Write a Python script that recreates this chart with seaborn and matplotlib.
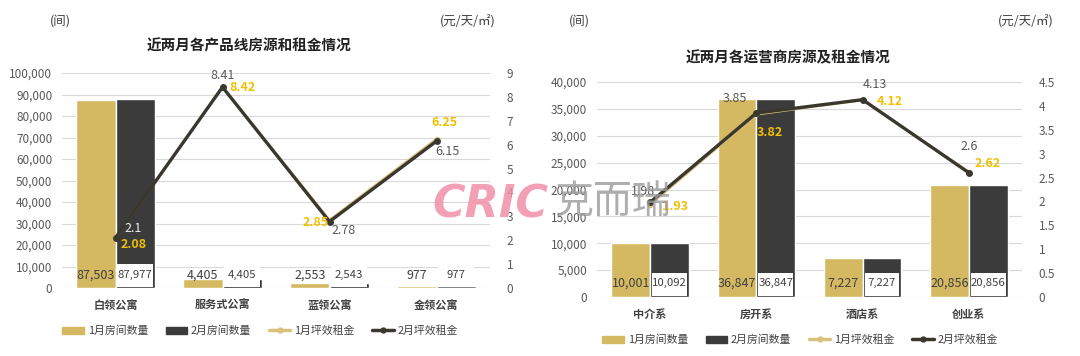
# coding:utf-8
# 近两月房源及租金情况 - 双图

import numpy as np
import pandas as pd
import seaborn as sns
import matplotlib.pyplot as plt
import matplotlib.transforms as mtransforms
from matplotlib.patches import Rectangle
from matplotlib.lines import Line2D
from matplotlib.patches import Patch

sns.set_theme(style="white")
plt.rcParams['font.family'] = ['Noto Sans CJK SC', 'DejaVu Sans']

# 左图: 产品线
cats_l = ['白领公寓', '服务式公寓', '蓝领公寓', '金领公寓']
jan_cnt_l = [87503, 4405, 2553, 977]
feb_cnt_l = [87977, 4405, 2543, 977]
jan_rent_l = [2.08, 8.42, 2.85, 6.25]
feb_rent_l = [2.1, 8.41, 2.78, 6.15]

# 右图: 运营商
cats_r = ['中介系', '房开系', '酒店系', '创业系']
jan_cnt_r = [10001, 36847, 7227, 20856]
feb_cnt_r = [10092, 36847, 7227, 20856]
jan_rent_r = [1.93, 3.82, 4.12, 2.62]
feb_rent_r = [1.98, 3.85, 4.13, 2.6]

GOLD = '#D5B962'
DARK = '#3B3B3B'
GOLD_TXT = '#F0C000'
GREY_TXT = '#595959'
LINE_GOLD = '#D8C27E'
LINE_DARK = '#3A372F'

# 折线标签偏移(像素)
jan_off_l = [(18, -6), (20, -1), (-14, -3), (8, 16)]
feb_off_l = [(18, 9), (0, 12), (14, -9), (11, -10)]
feb_col_l = ['#EEEEEE', GREY_TXT, GREY_TXT, GREY_TXT]
jan_off_r = [(25, -2), (13, -18), (27, -1), (19, 8)]
feb_off_r = [(-7, 11), (-22, 15), (12, 15), (0, 26)]
feb_col_r = [GREY_TXT] * 4

fig = plt.figure(figsize=(10.8, 3.56), dpi=100)


def draw(rect, title, title_xy, cats, jc, fc, jr, fr, y1max, y1step, y2max, y2step,
         joff, foff, fcol, lab_y):
    ax = fig.add_axes(rect)
    df = pd.DataFrame({
        'cat': cats * 2,
        'month': ['1月房间数量'] * len(cats) + ['2月房间数量'] * len(cats),
        'cnt': jc + fc,
    })
    sns.barplot(data=df, x='cat', y='cnt', hue='month', palette=[GOLD, DARK],
                width=0.73, gap=0, saturation=1, ax=ax, legend=False, zorder=2)
    ax.set_xlim(-0.5, len(cats) - 0.5)
    ax.set_ylim(0, y1max)
    ax.set_yticks(np.arange(0, y1max + 1, y1step))
    ax.set_yticklabels(['{:,.0f}'.format(v) for v in np.arange(0, y1max + 1, y1step)])
    ax.grid(axis='y', color='#D9D9D9', lw=0.8, zorder=0)
    ax.set_axisbelow(True)
    for s in ax.spines.values():
        s.set_visible(False)
    ax.set_xlabel('')
    ax.set_ylabel('')
    ax.tick_params(axis='y', length=0, labelsize=8.5, labelcolor=GREY_TXT, pad=7)
    ax.tick_params(axis='x', length=0, pad=8)
    for t in ax.get_xticklabels():
        t.set_fontsize(8)
        t.set_fontweight('bold')
        t.set_color('#404040')

    trans = mtransforms.blended_transform_factory(ax.transData, ax.transAxes)
    for bar, v in zip(ax.containers[0], jc):
        cx = bar.get_x() + bar.get_width() / 2
        ax.text(cx, lab_y, '{:,}'.format(v), transform=trans, ha='center', va='center',
                fontsize=9, color='#404040', zorder=5)
    for bar, v in zip(ax.containers[1], fc):
        w = bar.get_width()
        ax.add_patch(Rectangle((bar.get_x() + w * 0.05, 0.005), w * 0.9, 0.105,
                               transform=trans, facecolor='white', edgecolor='none', zorder=4))
        ax.text(bar.get_x() + w / 2, lab_y, '{:,}'.format(v), transform=trans,
                ha='center', va='center', fontsize=8.2, color='#404040', zorder=5)

    ax2 = ax.twinx()
    xs = np.arange(len(cats))
    sns.lineplot(x=xs, y=jr, ax=ax2, color=LINE_GOLD, lw=1.6, marker='o', markersize=4,
                 markeredgewidth=0, sort=False, zorder=3)
    sns.lineplot(x=xs, y=fr, ax=ax2, color=LINE_DARK, lw=2.4, marker='o', markersize=5,
                 markeredgewidth=0, sort=False, zorder=4)
    ax2.set_ylim(0, y2max)
    ticks2 = np.arange(0, y2max + 1e-9, y2step)
    ax2.set_yticks(ticks2)
    ax2.set_yticklabels(['{:g}'.format(v) for v in ticks2])
    ax2.tick_params(axis='y', length=0, labelsize=8.5, labelcolor=GREY_TXT, pad=12)
    for s in ax2.spines.values():
        s.set_visible(False)
    ax2.grid(False)
    ax2.set_ylabel('')
    for i in range(len(cats)):
        ax2.annotate('{:g}'.format(fr[i]), (xs[i], fr[i]), xytext=foff[i],
                     textcoords='offset pixels', ha='center', va='center',
                     fontsize=9, color=fcol[i], zorder=6)
        ax2.annotate('{:.2f}'.format(jr[i]), (xs[i], jr[i]), xytext=joff[i],
                     textcoords='offset pixels', ha='center', va='center',
                     fontsize=9, fontweight='bold', color=GOLD_TXT, zorder=6)

    fig.text(title_xy[0] / 1080, 1 - title_xy[1] / 356, title, ha='center', va='center',
             fontsize=10.5, fontweight='bold', color='#222222')
    return ax


draw([62 / 1080, 1 - 288 / 356, 428 / 1080, 215 / 356], '近两月各产品线房源和租金情况',
     (249, 46), cats_l, jan_cnt_l, feb_cnt_l, jan_rent_l, feb_rent_l,
     100000, 10000, 9, 1, jan_off_l, feb_off_l, feb_col_l, 0.06)
draw([597 / 1080, 1 - 297 / 356, 425 / 1080, 215 / 356], '近两月各运营商房源及租金情况',
     (788, 57), cats_r, jan_cnt_r, feb_cnt_r, jan_rent_r, feb_rent_r,
     40000, 5000, 4.5, 0.5, jan_off_r, feb_off_r, feb_col_r, 0.065)

# 单位
for x, s in [(60, '(间)'), (468, '(元/天/㎡)'), (579, '(间)'), (1026, '(元/天/㎡)')]:
    fig.text(x / 1080, 1 - 22 / 356, s, ha='center', va='center', fontsize=9, color='#404040')

# 图例
handles = [Patch(color=GOLD), Patch(color=DARK),
           Line2D([], [], color=LINE_GOLD, lw=2.5, marker='o', markersize=3.5),
           Line2D([], [], color=LINE_DARK, lw=2.5, marker='o', markersize=3.5)]
names = ['1月房间数量', '2月房间数量', '1月坪效租金', '2月坪效租金']
for cx, cy in [(260, 331), (800, 340)]:
    fig.legend(handles, names, loc='center', bbox_to_anchor=(cx / 1080, 1 - cy / 356),
               ncol=4, frameon=False, fontsize=7.8, handlelength=2.0, handleheight=0.7,
               columnspacing=1.6, handletextpad=0.35, labelcolor='#404040')

# 水印
fig.text(490 / 1080, 1 - 205 / 356, 'CRIC', ha='center', va='center', fontsize=32,
         fontweight='bold', style='italic', color='#F090A8', alpha=0.85, family='DejaVu Sans')
fig.text(613 / 1080, 1 - 203 / 356, '克而瑞', ha='center', va='center', fontsize=28,
         color='#9A9A9A', alpha=0.8)

plt.savefig('out.png', dpi=100)
